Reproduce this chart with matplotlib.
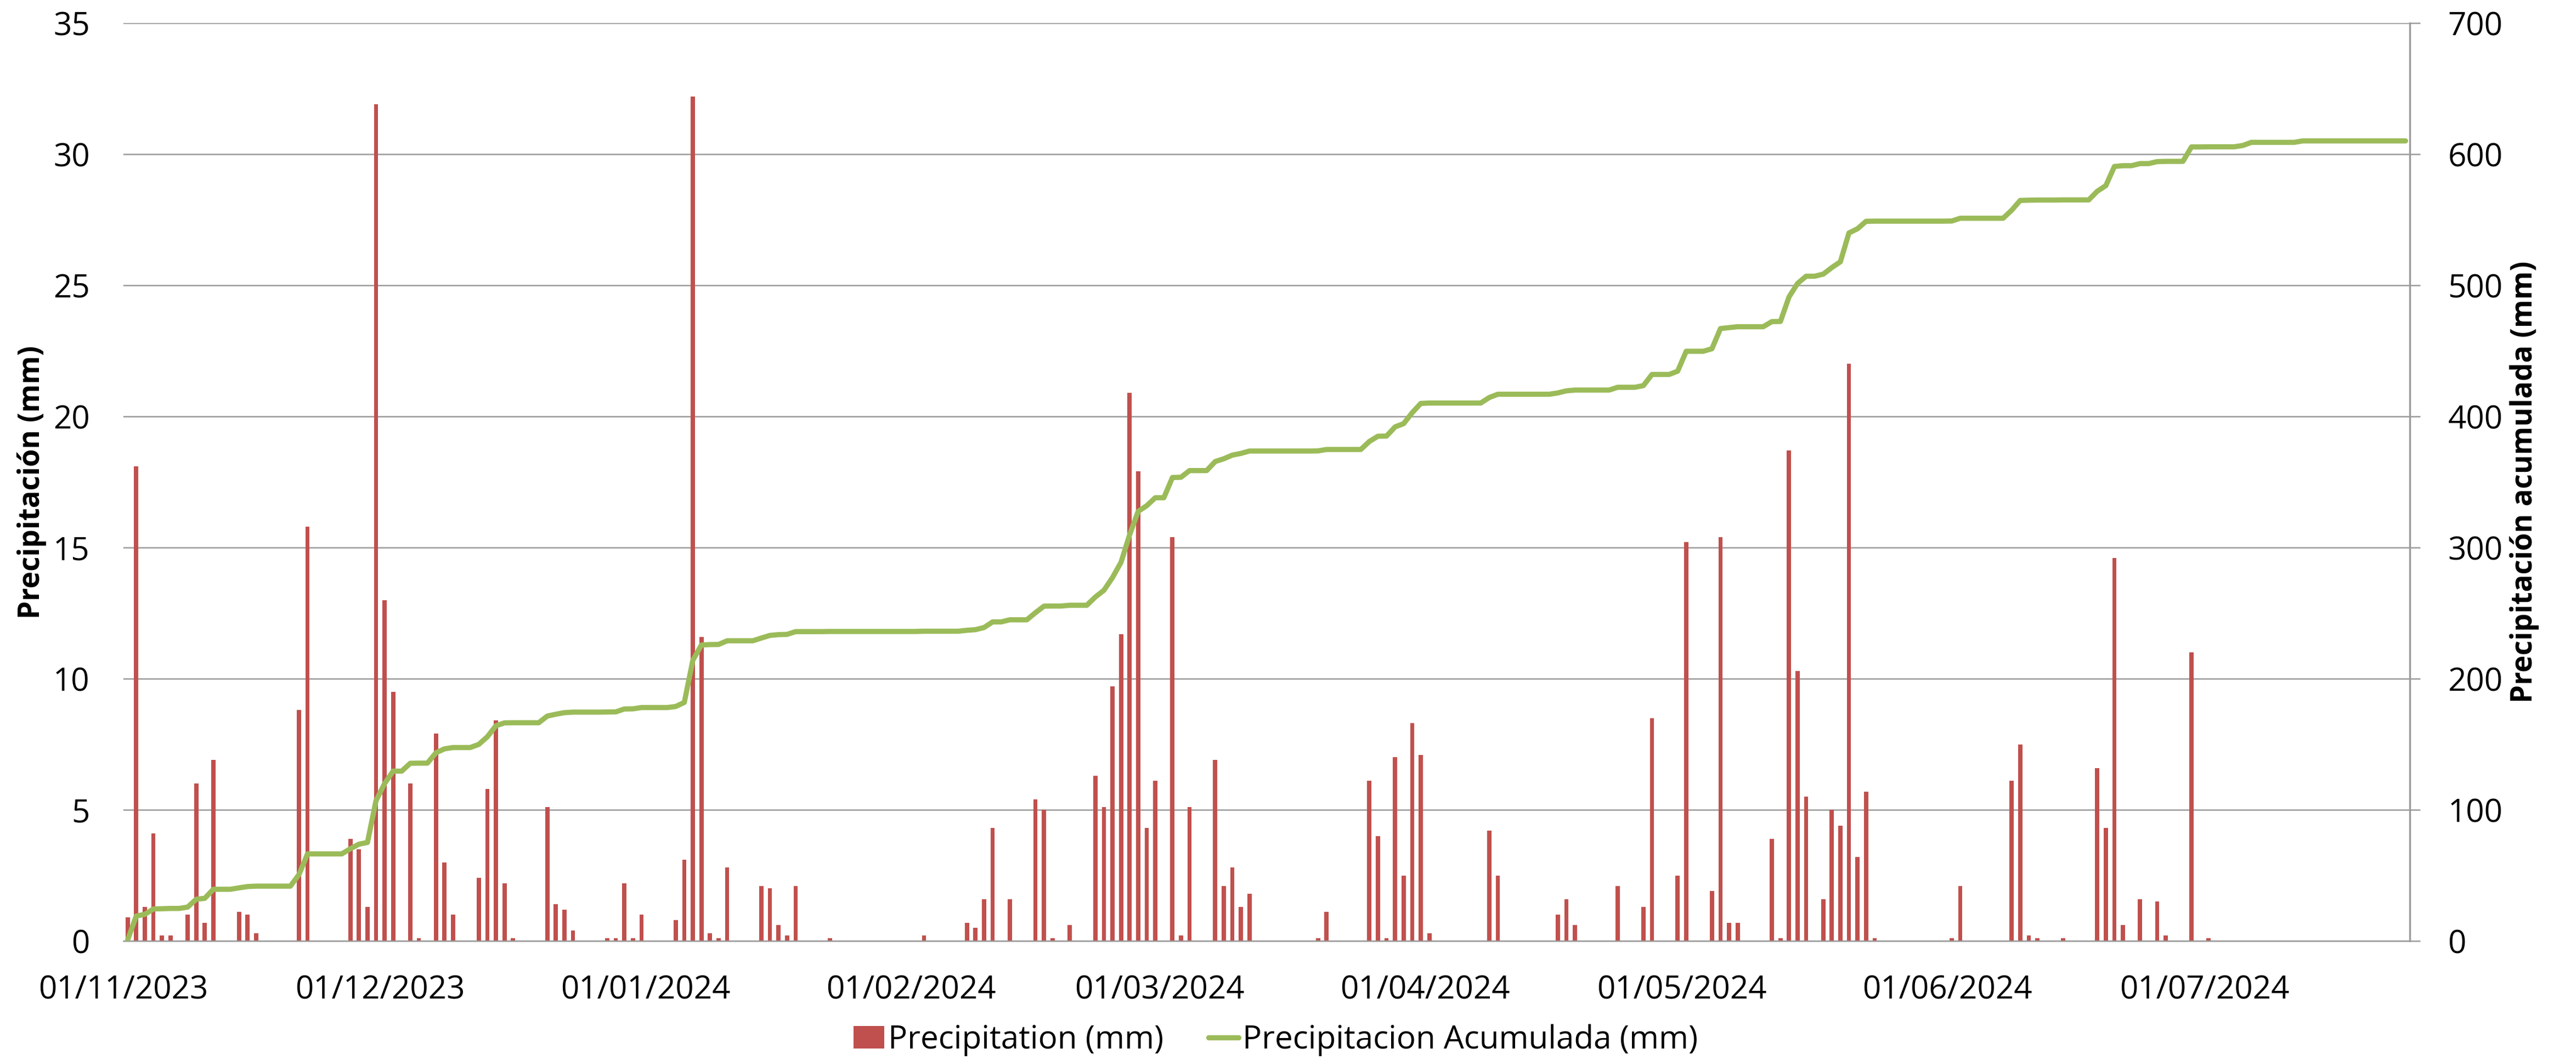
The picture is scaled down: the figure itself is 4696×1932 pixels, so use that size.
import numpy as np
import pandas as pd
import matplotlib
matplotlib.use("Agg")
import matplotlib.pyplot as plt
import matplotlib.dates as mdates

plt.rcParams['font.family'] = ['Open Sans', 'DejaVu Sans']

# daily rain, only the days with rain (all other days are 0)
first_day = "2023-11-01"
last_day = "2024-07-24"

rain_dates = [
    "2023-11-01", "2023-11-02", "2023-11-03", "2023-11-04", "2023-11-05", "2023-11-06",
    "2023-11-08", "2023-11-09", "2023-11-10", "2023-11-11", "2023-11-14", "2023-11-15",
    "2023-11-16", "2023-11-21", "2023-11-22", "2023-11-27", "2023-11-28", "2023-11-29",
    "2023-11-30",
    "2023-12-01", "2023-12-02", "2023-12-04", "2023-12-05", "2023-12-07", "2023-12-08",
    "2023-12-09", "2023-12-12", "2023-12-13", "2023-12-14", "2023-12-15", "2023-12-16",
    "2023-12-20", "2023-12-21", "2023-12-22", "2023-12-23", "2023-12-27", "2023-12-28",
    "2023-12-29", "2023-12-30", "2023-12-31",
    "2024-01-04", "2024-01-05", "2024-01-06", "2024-01-07", "2024-01-08", "2024-01-09",
    "2024-01-10", "2024-01-14", "2024-01-15", "2024-01-16", "2024-01-17", "2024-01-18",
    "2024-01-22",
    "2024-02-02", "2024-02-07", "2024-02-08", "2024-02-09", "2024-02-10", "2024-02-12",
    "2024-02-15", "2024-02-16", "2024-02-17", "2024-02-19", "2024-02-22", "2024-02-23",
    "2024-02-24", "2024-02-25", "2024-02-26", "2024-02-27", "2024-02-28", "2024-02-29",
    "2024-03-02", "2024-03-03", "2024-03-04", "2024-03-07", "2024-03-08", "2024-03-09",
    "2024-03-10", "2024-03-11", "2024-03-19", "2024-03-20", "2024-03-25", "2024-03-26",
    "2024-03-27", "2024-03-28", "2024-03-29", "2024-03-30", "2024-03-31",
    "2024-04-01", "2024-04-08", "2024-04-09", "2024-04-16", "2024-04-17", "2024-04-18",
    "2024-04-23", "2024-04-26", "2024-04-27", "2024-04-30",
    "2024-05-01", "2024-05-04", "2024-05-05", "2024-05-06", "2024-05-07", "2024-05-11",
    "2024-05-12", "2024-05-13", "2024-05-14", "2024-05-15", "2024-05-17", "2024-05-18",
    "2024-05-19", "2024-05-20", "2024-05-21", "2024-05-22", "2024-05-23",
    "2024-06-01", "2024-06-02", "2024-06-08", "2024-06-09", "2024-06-10", "2024-06-11",
    "2024-06-14", "2024-06-18", "2024-06-19", "2024-06-20", "2024-06-21", "2024-06-23",
    "2024-06-25", "2024-06-26", "2024-06-29",
    "2024-07-01",
]
rain_mm = [
    0.9, 18.1, 1.3, 4.1, 0.2, 0.2,
    1.0, 6.0, 0.7, 6.9, 1.1, 1.0,
    0.3, 8.8, 15.8, 3.9, 3.5, 1.3,
    31.9,
    13.0, 9.5, 6.0, 0.1, 7.9, 3.0,
    1.0, 2.4, 5.8, 8.4, 2.2, 0.1,
    5.1, 1.4, 1.2, 0.4, 0.1, 0.1,
    2.2, 0.1, 1.0,
    0.8, 3.1, 32.2, 11.6, 0.3, 0.1,
    2.8, 2.1, 2.0, 0.6, 0.2, 2.1,
    0.1,
    0.2, 0.7, 0.5, 1.6, 4.3, 1.6,
    5.4, 5.0, 0.1, 0.6, 6.3, 5.1,
    9.7, 11.7, 20.9, 17.9, 4.3, 6.1,
    15.4, 0.2, 5.1, 6.9, 2.1, 2.8,
    1.3, 1.8, 0.1, 1.1, 6.1, 4.0,
    0.1, 7.0, 2.5, 8.3, 7.1,
    0.3, 4.2, 2.5, 1.0, 1.6, 0.6,
    2.1, 1.3, 8.5, 2.5,
    15.2, 1.9, 15.4, 0.7, 0.7, 3.9,
    0.1, 18.7, 10.3, 5.5, 1.6, 5.0,
    4.4, 22.0, 3.2, 5.7, 0.1,
    0.1, 2.1, 6.1, 7.5, 0.2, 0.1,
    0.1, 6.6, 4.3, 14.6, 0.6, 1.6,
    1.5, 0.2, 11.0,
    0.1,
]

# steps in the accumulated curve in July that have no bar in the daily series
accum_extra_dates = ["2024-07-05", "2024-07-06", "2024-07-12"]
accum_extra_mm = [1.0, 2.4, 1.1]

month_ticks = ["2023-11-01", "2023-12-01", "2024-01-01", "2024-02-01", "2024-03-01",
               "2024-04-01", "2024-05-01", "2024-06-01", "2024-07-01"]

days = pd.date_range(first_day, last_day, freq="D")
daily = pd.Series(0.0, index=days)
daily[pd.to_datetime(rain_dates)] = rain_mm
extra = pd.Series(0.0, index=days)
extra[pd.to_datetime(accum_extra_dates)] = accum_extra_mm
accum = (daily + extra).cumsum()

x = mdates.date2num(days.to_pydatetime()) + 0.5

red = "#C0504D"
green = "#9BBB59"
grid_c = "#9A9A9A"
fs = 21

fig = plt.figure(figsize=(23.48, 9.66), dpi=200)
ax = fig.add_axes([0.0479, 0.1123, 0.8876, 0.8660])
ax2 = ax.twinx()

bars = ax.bar(x, daily.values, width=0.5, color=red, label="Precipitation (mm)")
line, = ax2.plot(x, accum.values, color=green, lw=3.4, solid_joinstyle="round",
                 solid_capstyle="round", label="Precipitacion Acumulada (mm)")

ax.set_xlim(mdates.date2num(pd.Timestamp(first_day)),
            mdates.date2num(pd.Timestamp(last_day)) + 1)
ax.set_ylim(0, 35)
ax2.set_ylim(0, 700)
ax.set_yticks(np.arange(0, 36, 5))
ax2.set_yticks(np.arange(0, 701, 100))

tick_pos = mdates.date2num(pd.to_datetime(month_ticks).to_pydatetime())
ax.set_xticks(tick_pos)
ax.set_xticklabels([pd.Timestamp(t).strftime("%d/%m/%Y") for t in month_ticks])

ax.set_axisbelow(True)
ax.yaxis.grid(True, color=grid_c, lw=0.9)
for a in (ax, ax2):
    for s in ("top", "left"):
        a.spines[s].set_visible(False)
ax.spines["right"].set_visible(False)
ax2.spines["bottom"].set_visible(False)
ax.spines["bottom"].set_color(grid_c)
ax.spines["bottom"].set_linewidth(0.9)
ax2.spines["right"].set_color(grid_c)
ax2.spines["right"].set_linewidth(1.2)

ax.tick_params(axis="y", length=0, pad=22, labelsize=fs)
ax.tick_params(axis="x", length=0, pad=22, labelsize=fs)
ax2.tick_params(axis="y", length=7, width=0.9, color=grid_c, pad=18, labelsize=fs)

ax.set_ylabel("Precipitación (mm)", fontsize=19, fontweight="bold")
ax.yaxis.set_label_coords(-0.0335, 0.5)
ax2.set_ylabel("Precipitación acumulada (mm)", fontsize=19, fontweight="bold")
ax2.yaxis.set_label_coords(1.0437, 0.5)

fig.legend([bars, line], ["Precipitation (mm)", "Precipitacion Acumulada (mm)"],
           loc="center", bbox_to_anchor=(0.4953, 0.0186), ncol=2, frameon=False,
           fontsize=fs, handlelength=0.95, handleheight=0.7, handletextpad=0.12,
           columnspacing=1.4)

fig.savefig("out.png", dpi=200)
